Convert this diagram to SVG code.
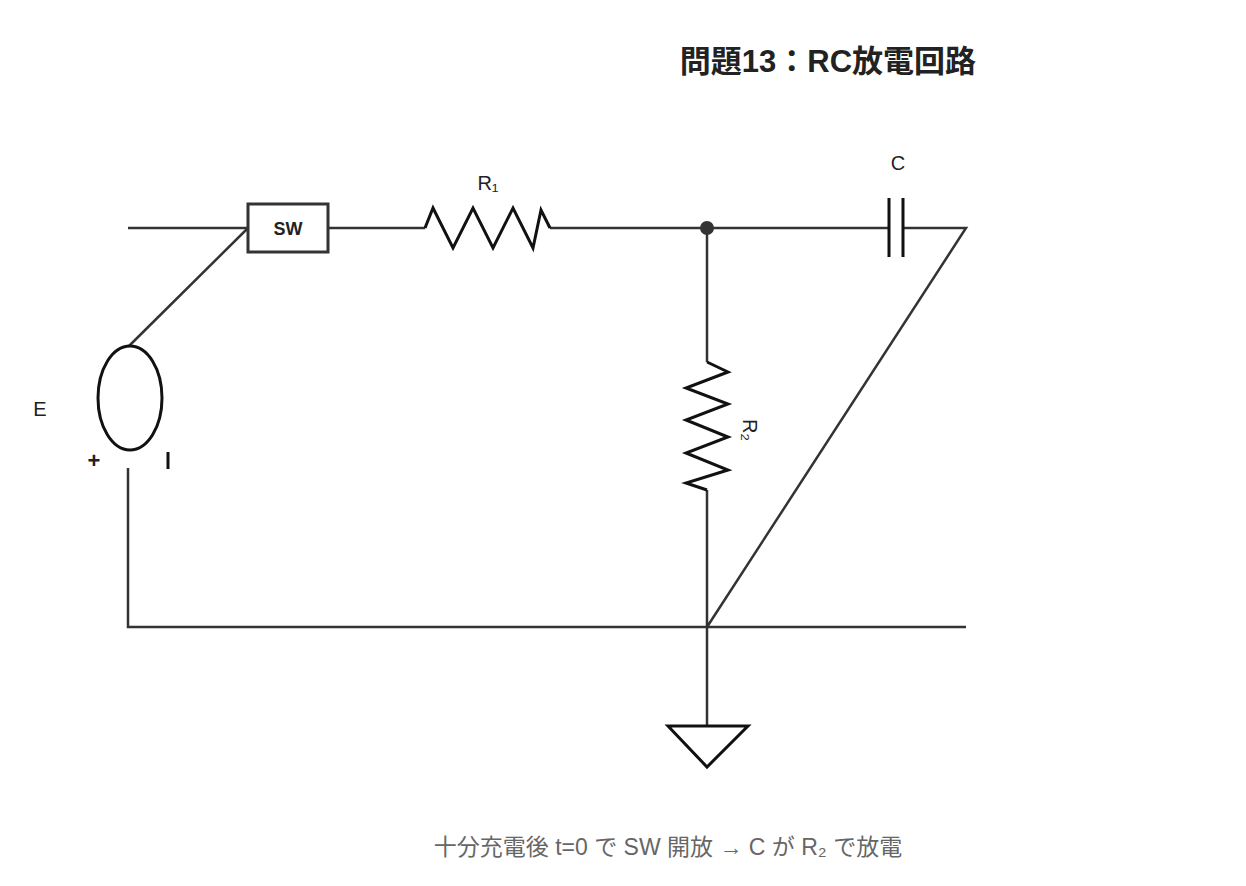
<svg xmlns="http://www.w3.org/2000/svg" width="1246" height="886" viewBox="0 0 1246 886">
<style>
.w{fill:none;stroke:#333;stroke-width:2.5;stroke-linejoin:miter}
.k{fill:none;stroke:#111;stroke-width:3}
.t{font-family:"Liberation Sans","Noto Sans CJK JP",sans-serif;fill:#222}
</style>
<rect width="1246" height="886" fill="#fff"/>
<text class="t" x="828" y="72" font-size="31" font-weight="bold" text-anchor="middle">問題13：RC放電回路</text>
<g id="connectors">
<path class="w" d="M128 228H248M328 228H425M550 228H888M903 228H966L707 627M707 228V362M707 490V725M128 468V627H966"/>
<path class="w" d="M128 347L248 228"/>
</g>
<g id="sw"><rect x="248" y="204" width="80" height="48" fill="#fff" stroke="#333" stroke-width="3"/><text class="t" x="288" y="235" font-size="18" font-weight="bold" text-anchor="middle">SW</text></g>
<g id="r1"><path class="k" d="M425 228L433 208L453 248L473 208L493 248L513 208L533 248L541 210L550 228"/><text class="t" x="488" y="190" font-size="20" text-anchor="middle">R₁</text></g>
<g id="node"><circle cx="707" cy="228" r="7" fill="#333"/></g>
<g id="c"><path class="k" d="M889 198V257M903 198V257"/><text class="t" x="898" y="170" font-size="20" text-anchor="middle">C</text></g>
<g id="r2"><path class="k" d="M707 362L728 372L686 388L728 404L686 420L728 437L686 453L728 470L686 483L707 490"/><text class="t" transform="translate(743,430) rotate(90)" font-size="20" text-anchor="middle">R₂</text></g>
<g id="gnd"><path class="k" d="M668 726H748L707 767Z" fill="#fff"/></g>
<g id="e"><ellipse cx="130" cy="398" rx="32" ry="52" fill="#fff" stroke="#111" stroke-width="3"/><text class="t" x="40" y="416" font-size="20" text-anchor="middle">E</text><text class="t" x="94" y="468" font-size="22" font-weight="bold" text-anchor="middle">+</text><path class="k" d="M168 452V469"/></g>
<text class="t" x="668" y="855" font-size="23" text-anchor="middle" style="fill:#666">十分充電後 t=0 で SW 開放 → C が R₂ で放電</text>
</svg>
